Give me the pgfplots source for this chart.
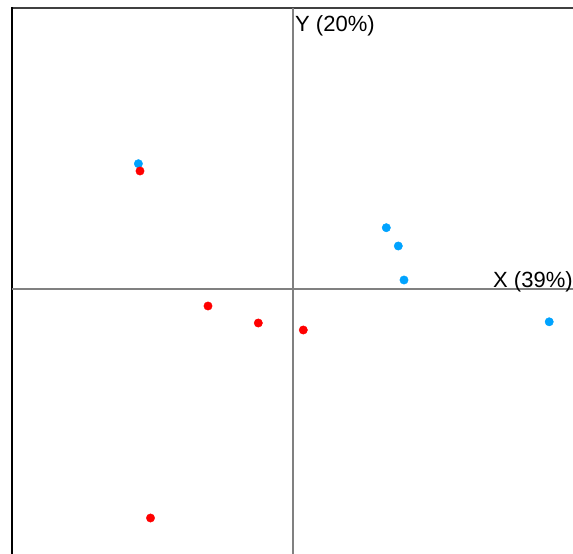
\documentclass[border=0pt]{standalone}
\usepackage{pgfplots}
\pgfplotsset{compat=1.18}
\usepackage{fontspec}
\setmainfont{Liberation Sans}
\definecolor{ptblue}{RGB}{0,163,255}
\definecolor{ptred}{RGB}{255,0,0}
\begin{document}
\begin{tikzpicture}
\useasboundingbox (0,0) rectangle (573pt,554pt);
\clip (0,0) rectangle (573pt,554pt);
\begin{axis}[
  at={(0,0)}, anchor=south west,
  scale only axis, width=573pt, height=554pt,
  xmin=0, xmax=573, ymin=0, ymax=554,
  axis lines=none, clip=false,
]
% frame (top and left)
\draw[black!75, line width=2pt] (axis cs:12,546) -- (axis cs:580,546);
\draw[black, line width=2.2pt] (axis cs:12,-5) -- (axis cs:12,547);
% axes
\draw[gray, line width=1.8pt] (axis cs:293.3,-5) -- (axis cs:293.3,546);
\draw[gray, line width=1.8pt] (axis cs:12,265) -- (axis cs:580,265);
\node[anchor=base west, inner sep=0pt, font=\fontsize{22}{26}\selectfont] at (axis cs:295,522) {Y (20\%)};
\node[anchor=base west, inner sep=0pt, font=\fontsize{22}{26}\selectfont] at (axis cs:493,266.5) {X (39\%)};
\addplot[only marks, mark=*, mark size=4.2pt, color=ptblue, mark options={draw=ptblue, fill=ptblue}] coordinates {
 (138.4,390.3) (386.3,326.3) (398.3,308) (404,274) (549.2,232.2)
};
\addplot[only marks, mark=*, mark size=4.2pt, color=ptred, mark options={draw=ptred, fill=ptred}] coordinates {
 (140,383) (208,248) (258.3,231) (303.3,224) (150.5,36)
};
\end{axis}
\end{tikzpicture}
\end{document}
